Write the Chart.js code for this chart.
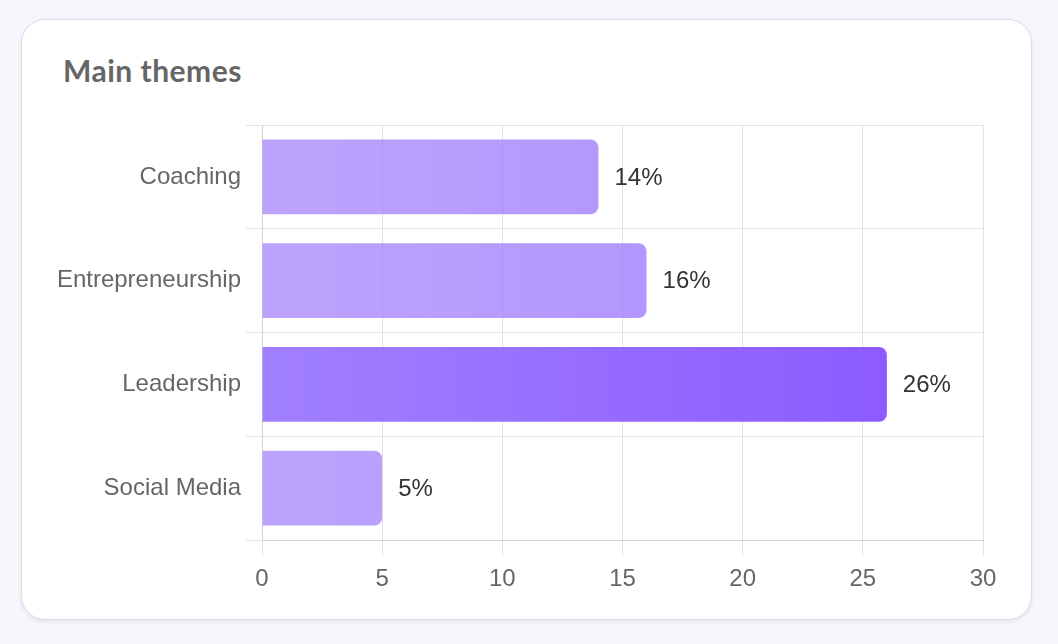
<!DOCTYPE html>
<html>
<head>
<meta charset="utf-8">
<script src="https://cdn.jsdelivr.net/npm/chart.js@4.4.1/dist/chart.umd.min.js"></script>
<style>
    html, body { margin: 0; padding: 0; background: #f6f7fc; }
    body { width: 1058px; height: 644px; position: relative; overflow: hidden; }
    .card {
        position: absolute; left: 21px; top: 19px; width: 1009px; height: 599px;
        background: #fff; border: 1px solid #dcdce3; border-radius: 24px;
        box-shadow: 0 2px 4px rgba(0, 0, 0, 0.08);
    }
    .card h2 {
        position: absolute; left: 41px; top: 35px; margin: 0; line-height: 31px;
        font-family: Lato, sans-serif; font-weight: 700; font-size: 30px; color: #666;
        letter-spacing: 0.5px;
    }
    #wrap { position: absolute; left: 30px; top: 115px; width: 970px; height: 480px; }
</style>
</head>
<body>
<div class="card"><h2>Main themes</h2></div>
<div id="wrap"><canvas id="temas"></canvas></div>
<script>
    const categorias = ['Coaching', 'Entrepreneurship', 'Leadership', 'Social Media'];
    const valores = [14, 16, 26, 5];
    const destaque = [false, false, true, false];
    const ticksX = [0, 5, 10, 15, 20, 25, 30];

    const fonte = 'Liberation Sans, Arial, Helvetica, sans-serif';

    // Gradiente horizontal por barra
    function corBarra(ctx) {
        const chart = ctx.chart;
        const area = chart.chartArea;
        if (!area) return 'rgba(160, 124, 252, 0.75)';
        const x = chart.scales.x;
        const g = chart.ctx.createLinearGradient(area.left, 0, x.getPixelForValue(26), 0);
        if (destaque[ctx.dataIndex]) {
            g.addColorStop(0, 'rgba(150, 114, 255, 0.9)');
            g.addColorStop(1, 'rgba(131, 77, 255, 0.92)');
        } else {
            g.addColorStop(0, 'rgba(163, 130, 251, 0.73)');
            g.addColorStop(1, 'rgba(150, 110, 254, 0.78)');
        }
        return g;
    }

    // Rótulos de percentagem no fim das barras
    const rotulos = {
        id: 'rotulos',
        afterDatasetsDraw(chart) {
            const c = chart.ctx;
            const meta = chart.getDatasetMeta(0);
            c.save();
            c.font = '24px ' + fonte;
            c.fillStyle = '#333';
            c.textAlign = 'left';
            c.textBaseline = 'middle';
            meta.data.forEach((bar, i) => {
                c.fillText(valores[i] + '%', bar.x + 16, bar.y + 1);
            });
            c.restore();
        }
    };

    new Chart(document.getElementById('temas'), {
        type: 'bar',
        data: {
            labels: categorias,
            datasets: [{
                data: valores,
                backgroundColor: corBarra,
                borderRadius: 8,
                borderSkipped: 'start'
            }]
        },
        options: {
            indexAxis: 'y',
            responsive: true,
            maintainAspectRatio: false,
            animation: false,
            layout: { padding: { top: 10, right: 17, left: 0, bottom: 0 } },
            plugins: {
                legend: { display: false },
                tooltip: { enabled: false }
            },
            scales: {
                x: {
                    min: 0,
                    max: 30,
                    afterBuildTicks: s => { s.ticks = ticksX.map(v => ({ value: v })); },
                    afterFit: s => { s.height = 55; s.paddingLeft = 0; s.paddingRight = 0; },
                    grid: { color: '#e3e3e6', tickLength: 16 },
                    border: { color: '#d2d2d6' },
                    ticks: { color: '#666', font: { size: 24, family: fonte }, padding: 9 }
                },
                y: {
                    afterFit: s => { s.width = 232; s.paddingTop = 0; s.paddingBottom = 0; },
                    grid: { color: '#e3e3e6', tickLength: 16 },
                    border: { color: '#d2d2d6' },
                    ticks: { color: '#666', font: { size: 24, family: fonte }, padding: 5 }
                }
            }
        },
        plugins: [rotulos]
    });
</script>
</body>
</html>
